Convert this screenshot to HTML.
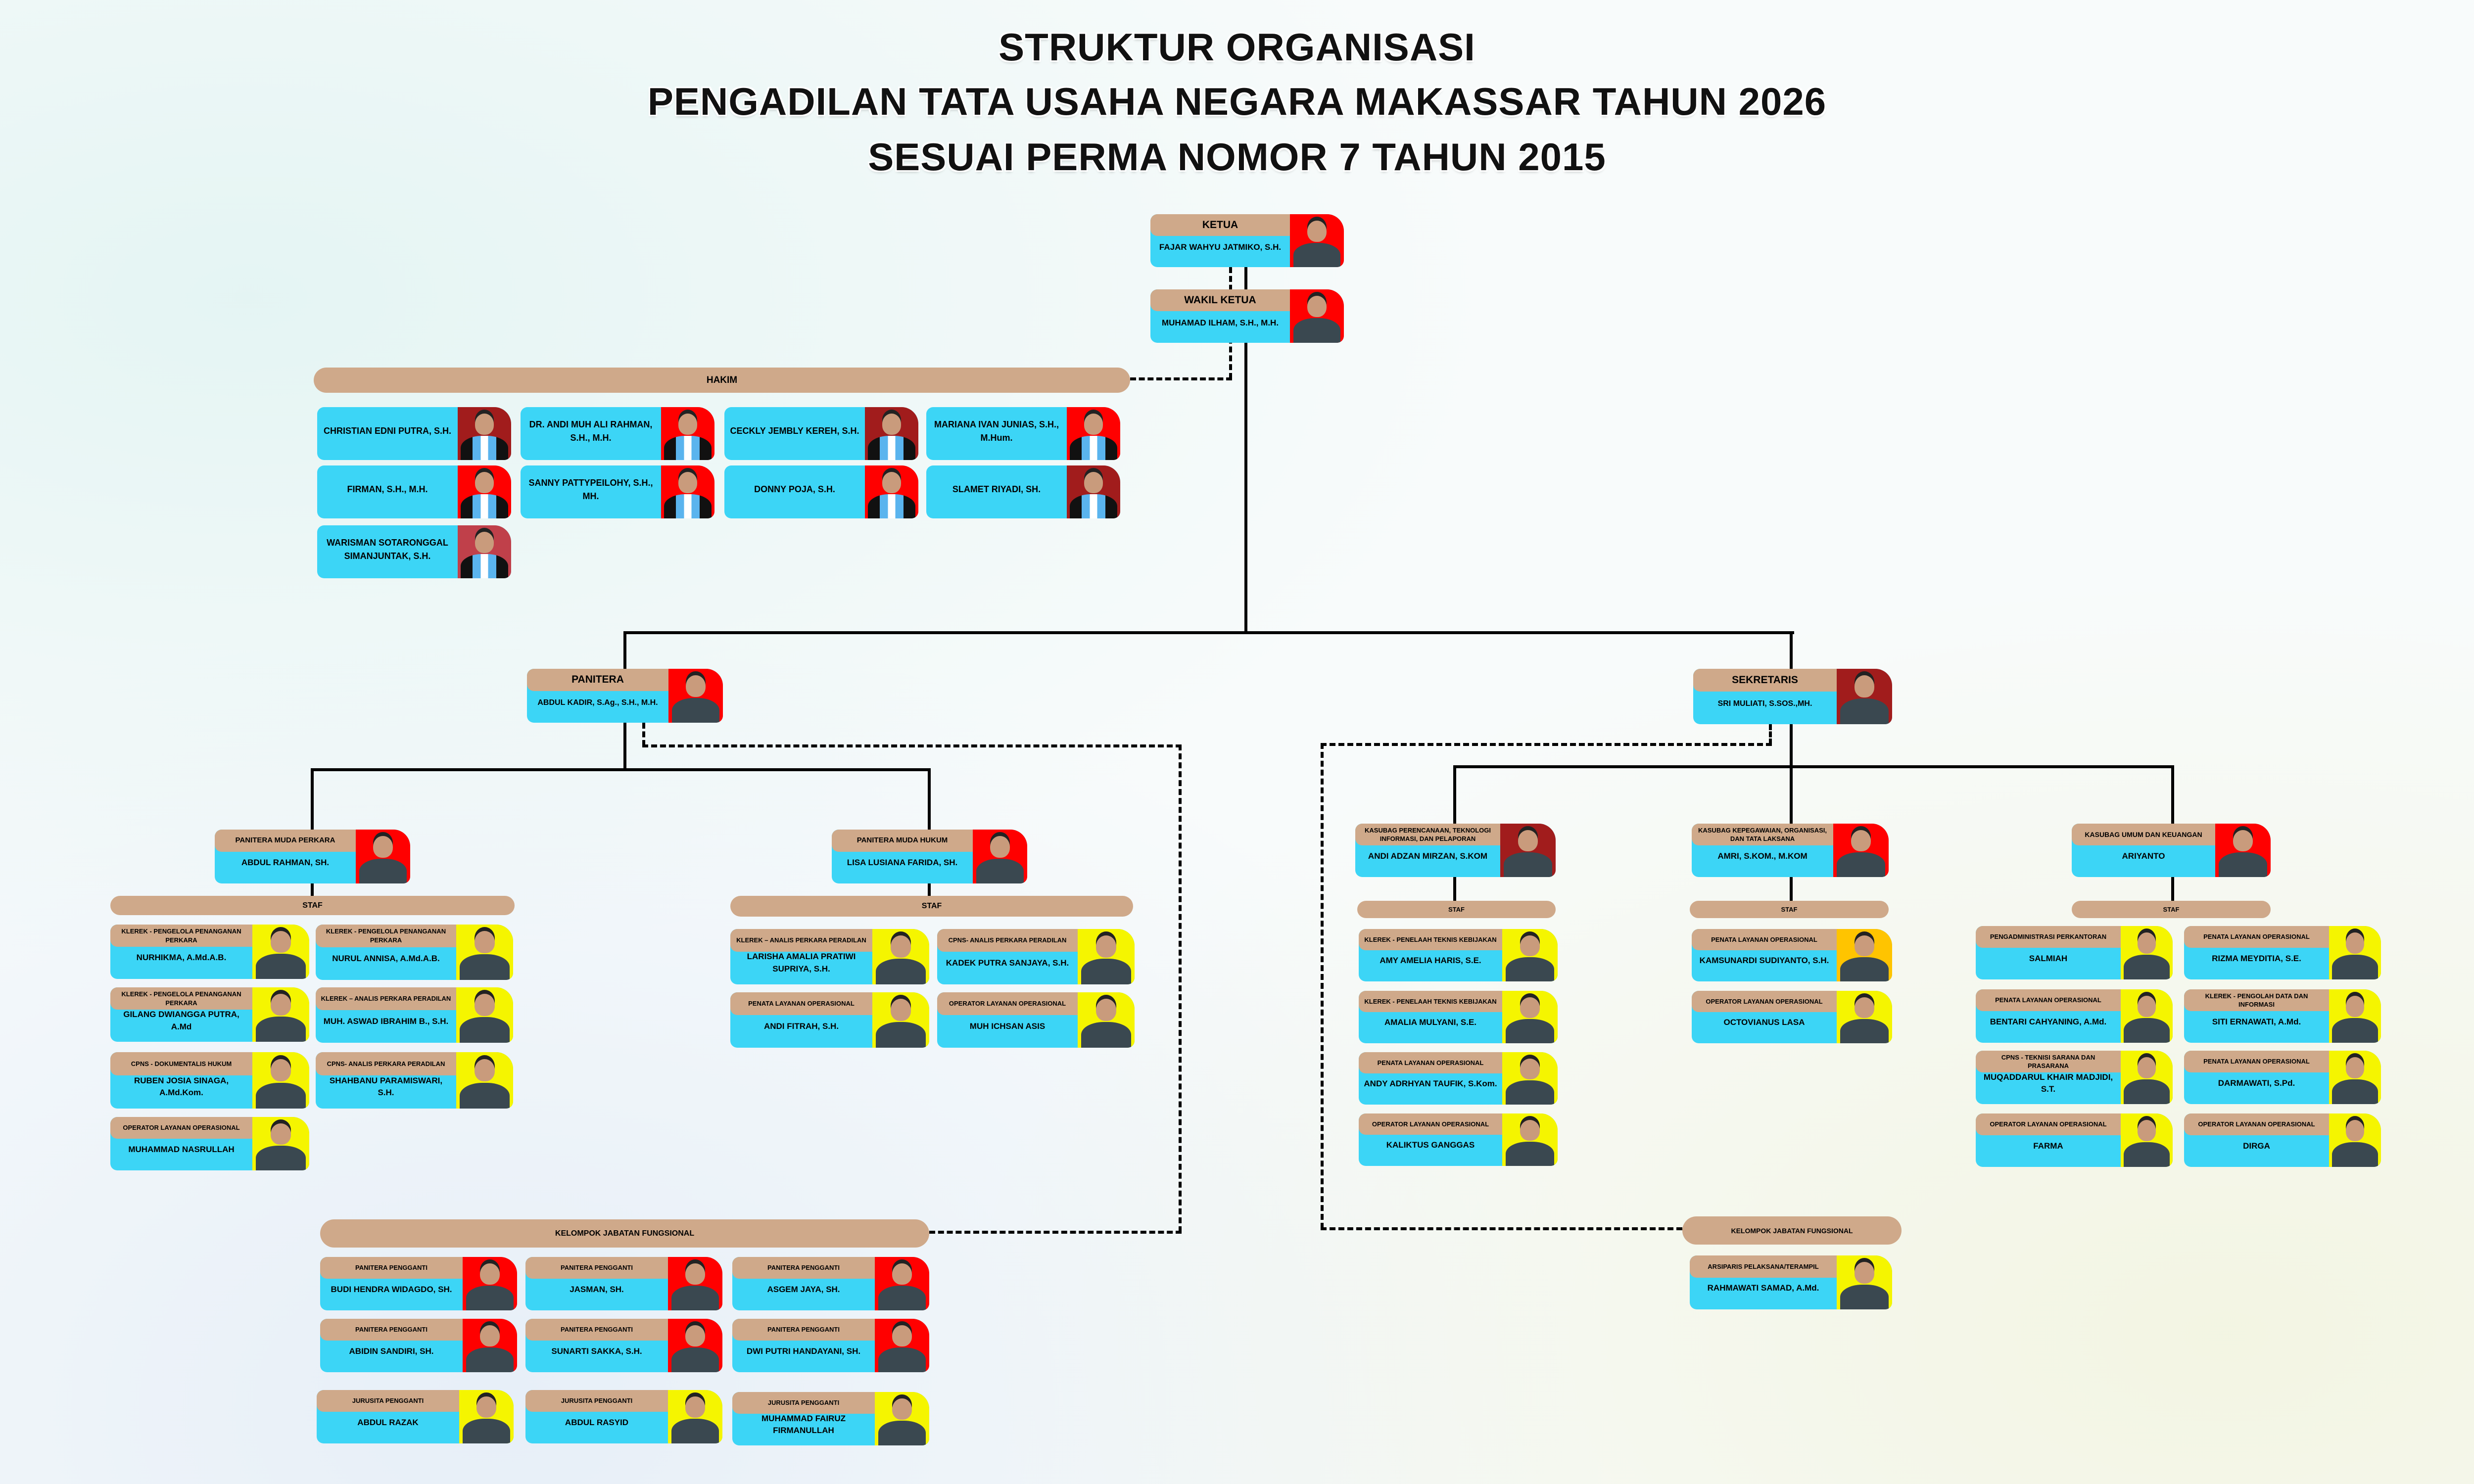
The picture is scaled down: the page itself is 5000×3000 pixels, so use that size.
<!DOCTYPE html>
<html><head><meta charset="utf-8">
<style>
*{margin:0;padding:0;box-sizing:border-box}
body{width:5000px;height:3000px;position:relative;overflow:hidden;background:#f8fbfb;font-family:"Liberation Sans",sans-serif;font-weight:bold;color:#000}
.bg1{position:absolute;left:0;top:0;width:5000px;height:3000px;background:radial-gradient(ellipse at 10% 20%,rgba(170,225,220,.25),transparent 40%),radial-gradient(ellipse at 90% 90%,rgba(230,230,170,.3),transparent 40%),radial-gradient(ellipse at 20% 95%,rgba(190,210,240,.3),transparent 40%)}
.title{position:absolute;left:0;width:5000px;text-align:center;font-size:78px;color:#111;letter-spacing:1px;text-shadow:3px 3px 0 #fff,-3px -3px 0 #fff,3px -3px 0 #fff,-3px 3px 0 #fff,0 4px 6px rgba(0,0,0,.2)}
.c{position:absolute;background:#3cd5f6;border-radius:14px 34px 14px 14px;overflow:hidden;--pw:112px}
.t{position:absolute;left:0;top:0;height:41%;right:var(--pw);background:#cfa98a;display:flex;align-items:center;justify-content:center;text-align:center;font-size:13px;line-height:1.35;padding:0 10px;border-radius:14px 0 0 14px}
.n{position:absolute;left:0;top:41%;bottom:0;right:var(--pw);display:flex;align-items:center;justify-content:center;text-align:center;font-size:17px;line-height:1.45;padding:0 10px 5% 10px}
.p{position:absolute;right:0;top:0;bottom:0;width:var(--pw);background:#f5f500;overflow:hidden}
.p::before{content:"";position:absolute;left:32%;top:12%;width:36%;height:40%;border-radius:50% 50% 45% 45%;background:#c99b7c;box-shadow:0 -8px 0 #222;z-index:2}
.p::after{content:"";position:absolute;left:6%;right:6%;top:54%;bottom:-5%;border-radius:45% 45% 0 0;background:#3a4850}
.r{background:#ff0000}.dr{background:#a11c1c}.y{background:#f5f500}.o{background:#ffc400}
.h .n{top:0;padding:0 10px 10px 10px;font-size:18px}
.h .p::after{background:linear-gradient(90deg,#111 0 25%,#5ab4ee 25% 42%,#fff 42% 58%,#5ab4ee 58% 75%,#111 75%)}
.big .t{font-size:21px}.big .n{font-size:17px;white-space:nowrap;padding:0 4px 4% 4px}
.bar{position:absolute;background:#cfa98a;border-radius:40px;display:flex;align-items:center;justify-content:center;font-size:19px}
.L{position:absolute;background:#000}
.DV{position:absolute;width:0;border-left:6px dashed #000}
.DH{position:absolute;height:0;border-top:6px dashed #000}
</style></head><body>
<div class="bg1"></div>
<div class="title" style="top:50px">STRUKTUR ORGANISASI</div>
<div class="title" style="top:160px">PENGADILAN TATA USAHA NEGARA MAKASSAR TAHUN 2026</div>
<div class="title" style="top:272px">SESUAI PERMA NOMOR 7 TAHUN 2015</div>

<div class="L" style="left:2515px;top:540px;width:6px;height:742px"></div>
<div class="L" style="left:1260px;top:1276px;width:2366px;height:6px"></div>
<div class="L" style="left:1260px;top:1276px;width:6px;height:80px"></div>
<div class="L" style="left:3617px;top:1276px;width:6px;height:80px"></div>
<div class="L" style="left:1260px;top:1460px;width:6px;height:98px"></div>
<div class="L" style="left:628px;top:1553px;width:1253px;height:6px"></div>
<div class="L" style="left:628px;top:1553px;width:6px;height:126px"></div>
<div class="L" style="left:1875px;top:1553px;width:6px;height:126px"></div>
<div class="L" style="left:628px;top:1785px;width:6px;height:28px"></div>
<div class="L" style="left:1875px;top:1785px;width:6px;height:28px"></div>
<div class="L" style="left:3617px;top:1463px;width:6px;height:88px"></div>
<div class="L" style="left:2937px;top:1547px;width:1457px;height:6px"></div>
<div class="L" style="left:2937px;top:1547px;width:6px;height:120px"></div>
<div class="L" style="left:3617px;top:1547px;width:6px;height:120px"></div>
<div class="L" style="left:4388px;top:1547px;width:6px;height:120px"></div>
<div class="L" style="left:2937px;top:1772px;width:6px;height:51px"></div>
<div class="L" style="left:3617px;top:1772px;width:6px;height:51px"></div>
<div class="L" style="left:4388px;top:1772px;width:6px;height:51px"></div>

<div class="DV" style="left:2484px;top:540px;height:226px"></div>
<div class="DH" style="left:2284px;top:763px;width:206px"></div>
<div class="DV" style="left:1298px;top:1461px;height:47px"></div>
<div class="DH" style="left:1298px;top:1505px;width:1090px"></div>
<div class="DV" style="left:2382px;top:1505px;height:986px"></div>
<div class="DH" style="left:1878px;top:2488px;width:510px"></div>
<div class="DV" style="left:3575px;top:1464px;height:41px"></div>
<div class="DH" style="left:2669px;top:1502px;width:912px"></div>
<div class="DV" style="left:2669px;top:1502px;height:982px"></div>
<div class="DH" style="left:2669px;top:2481px;width:731px"></div>

<div class="c big" style="left:2325px;top:433px;width:391px;height:107px;--pw:109px"><div class="t">KETUA</div><div class="n">FAJAR WAHYU JATMIKO, S.H.</div><div class="p r"></div></div>
<div class="c big" style="left:2325px;top:585px;width:391px;height:108px;--pw:109px"><div class="t">WAKIL KETUA</div><div class="n">MUHAMAD ILHAM, S.H., M.H.</div><div class="p r"></div></div>

<div class="bar" style="left:634px;top:743px;width:1650px;height:51px">HAKIM</div>
<div class="c h" style="left:641px;top:823px;width:392px;height:107px;--pw:108px"><div class="n">CHRISTIAN EDNI PUTRA, S.H.</div><div class="p dr"></div></div>
<div class="c h" style="left:1052px;top:823px;width:392px;height:107px;--pw:108px"><div class="n">DR. ANDI MUH ALI RAHMAN, S.H., M.H.</div><div class="p r"></div></div>
<div class="c h" style="left:1464px;top:823px;width:392px;height:107px;--pw:108px"><div class="n">CECKLY JEMBLY KEREH, S.H.</div><div class="p dr"></div></div>
<div class="c h" style="left:1872px;top:823px;width:392px;height:107px;--pw:108px"><div class="n">MARIANA IVAN JUNIAS, S.H., M.Hum.</div><div class="p r"></div></div>
<div class="c h" style="left:641px;top:941px;width:392px;height:107px;--pw:108px"><div class="n">FIRMAN, S.H., M.H.</div><div class="p r"></div></div>
<div class="c h" style="left:1052px;top:941px;width:392px;height:107px;--pw:108px"><div class="n">SANNY PATTYPEILOHY, S.H., MH.</div><div class="p r"></div></div>
<div class="c h" style="left:1464px;top:941px;width:392px;height:107px;--pw:108px"><div class="n">DONNY POJA, S.H.</div><div class="p r"></div></div>
<div class="c h" style="left:1872px;top:941px;width:392px;height:107px;--pw:108px"><div class="n">SLAMET RIYADI, SH.</div><div class="p dr"></div></div>
<div class="c h" style="left:641px;top:1062px;width:392px;height:107px;--pw:108px"><div class="n">WARISMAN SOTARONGGAL SIMANJUNTAK, S.H.</div><div class="p" style="background:#c0404a"></div></div>

<div class="c big" style="left:1065px;top:1352px;width:396px;height:109px;--pw:110px"><div class="t">PANITERA</div><div class="n" style="font-size:16px">ABDUL KADIR, S.Ag., S.H., M.H.</div><div class="p r"></div></div>
<div class="c big" style="left:3422px;top:1352px;width:402px;height:112px;--pw:112px"><div class="t">SEKRETARIS</div><div class="n" style="font-size:16px">SRI MULIATI, S.SOS.,MH.</div><div class="p dr"></div></div>

<div class="c" style="left:434px;top:1677px;width:395px;height:109px;--pw:110px"><div class="t" style="font-size:15px">PANITERA MUDA PERKARA</div><div class="n">ABDUL RAHMAN, SH.</div><div class="p r"></div></div>
<div class="c" style="left:1681px;top:1677px;width:395px;height:109px;--pw:110px"><div class="t" style="font-size:15px">PANITERA MUDA HUKUM</div><div class="n">LISA LUSIANA FARIDA, SH.</div><div class="p r"></div></div>
<div class="bar" style="left:223px;top:1811px;width:817px;height:39px;font-size:16px">STAF</div>
<div class="bar" style="left:1476px;top:1811px;width:814px;height:42px;font-size:16px">STAF</div>

<div class="c" style="left:223px;top:1869px;width:402px;height:110px;--pw:115px"><div class="t">KLEREK - PENGELOLA PENANGANAN PERKARA</div><div class="n">NURHIKMA, A.Md.A.B.</div><div class="p y"></div></div>
<div class="c" style="left:223px;top:1996px;width:402px;height:110px;--pw:115px"><div class="t">KLEREK - PENGELOLA PENANGANAN PERKARA</div><div class="n">GILANG DWIANGGA PUTRA, A.Md</div><div class="p y"></div></div>
<div class="c" style="left:223px;top:2127px;width:402px;height:114px;--pw:115px"><div class="t">CPNS - DOKUMENTALIS HUKUM</div><div class="n">RUBEN JOSIA SINAGA, A.Md.Kom.</div><div class="p y"></div></div>
<div class="c" style="left:223px;top:2258px;width:402px;height:108px;--pw:115px"><div class="t">OPERATOR LAYANAN OPERASIONAL</div><div class="n">MUHAMMAD NASRULLAH</div><div class="p y"></div></div>
<div class="c" style="left:638px;top:1869px;width:399px;height:112px;--pw:115px"><div class="t">KLEREK - PENGELOLA PENANGANAN PERKARA</div><div class="n">NURUL ANNISA, A.Md.A.B.</div><div class="p y"></div></div>
<div class="c" style="left:638px;top:1996px;width:399px;height:112px;--pw:115px"><div class="t">KLEREK – ANALIS PERKARA PERADILAN</div><div class="n">MUH. ASWAD IBRAHIM B., S.H.</div><div class="p y"></div></div>
<div class="c" style="left:638px;top:2127px;width:399px;height:114px;--pw:115px"><div class="t">CPNS- ANALIS PERKARA PERADILAN</div><div class="n">SHAHBANU PARAMISWARI, S.H.</div><div class="p y"></div></div>

<div class="c" style="left:1476px;top:1878px;width:402px;height:112px;--pw:115px"><div class="t">KLEREK – ANALIS PERKARA PERADILAN</div><div class="n">LARISHA AMALIA PRATIWI SUPRIYA, S.H.</div><div class="p y"></div></div>
<div class="c" style="left:1894px;top:1878px;width:399px;height:112px;--pw:115px"><div class="t">CPNS- ANALIS PERKARA PERADILAN</div><div class="n">KADEK PUTRA SANJAYA, S.H.</div><div class="p y"></div></div>
<div class="c" style="left:1476px;top:2006px;width:402px;height:112px;--pw:115px"><div class="t">PENATA LAYANAN OPERASIONAL</div><div class="n">ANDI FITRAH, S.H.</div><div class="p y"></div></div>
<div class="c" style="left:1894px;top:2006px;width:399px;height:112px;--pw:115px"><div class="t">OPERATOR LAYANAN OPERASIONAL</div><div class="n">MUH ICHSAN ASIS</div><div class="p y"></div></div>

<div class="bar" style="left:647px;top:2465px;width:1231px;height:57px;font-size:16px">KELOMPOK JABATAN FUNGSIONAL</div>
<div class="c" style="left:647px;top:2541px;width:398px;height:108px;--pw:110px"><div class="t">PANITERA PENGGANTI</div><div class="n">BUDI HENDRA WIDAGDO, SH.</div><div class="p r"></div></div>
<div class="c" style="left:1062px;top:2541px;width:398px;height:108px;--pw:110px"><div class="t">PANITERA PENGGANTI</div><div class="n">JASMAN, SH.</div><div class="p r"></div></div>
<div class="c" style="left:1480px;top:2541px;width:398px;height:108px;--pw:110px"><div class="t">PANITERA PENGGANTI</div><div class="n">ASGEM JAYA, SH.</div><div class="p r"></div></div>
<div class="c" style="left:647px;top:2666px;width:398px;height:108px;--pw:110px"><div class="t">PANITERA PENGGANTI</div><div class="n">ABIDIN SANDIRI, SH.</div><div class="p r"></div></div>
<div class="c" style="left:1062px;top:2666px;width:398px;height:108px;--pw:110px"><div class="t">PANITERA PENGGANTI</div><div class="n">SUNARTI SAKKA, S.H.</div><div class="p r"></div></div>
<div class="c" style="left:1480px;top:2666px;width:398px;height:108px;--pw:110px"><div class="t">PANITERA PENGGANTI</div><div class="n">DWI PUTRI HANDAYANI, SH.</div><div class="p r"></div></div>
<div class="c" style="left:640px;top:2810px;width:398px;height:108px;--pw:110px"><div class="t">JURUSITA PENGGANTI</div><div class="n">ABDUL RAZAK</div><div class="p y"></div></div>
<div class="c" style="left:1062px;top:2810px;width:398px;height:108px;--pw:110px"><div class="t">JURUSITA PENGGANTI</div><div class="n">ABDUL RASYID</div><div class="p y"></div></div>
<div class="c" style="left:1480px;top:2814px;width:398px;height:108px;--pw:110px"><div class="t">JURUSITA PENGGANTI</div><div class="n">MUHAMMAD FAIRUZ FIRMANULLAH</div><div class="p y"></div></div>

<div class="c" style="left:2739px;top:1665px;width:405px;height:108px;--pw:112px"><div class="t">KASUBAG PERENCANAAN, TEKNOLOGI INFORMASI, DAN PELAPORAN</div><div class="n">ANDI ADZAN MIRZAN, S.KOM</div><div class="p dr"></div></div>
<div class="c" style="left:3419px;top:1665px;width:398px;height:108px;--pw:112px"><div class="t">KASUBAG KEPEGAWAIAN, ORGANISASI, DAN TATA LAKSANA</div><div class="n">AMRI, S.KOM., M.KOM</div><div class="p r"></div></div>
<div class="c" style="left:4187px;top:1665px;width:402px;height:108px;--pw:112px"><div class="t" style="font-size:14px">KASUBAG UMUM DAN KEUANGAN</div><div class="n">ARIYANTO</div><div class="p r"></div></div>
<div class="bar" style="left:2743px;top:1821px;width:401px;height:35px;font-size:13px">STAF</div>
<div class="bar" style="left:3415px;top:1821px;width:402px;height:35px;font-size:13px">STAF</div>
<div class="bar" style="left:4187px;top:1821px;width:402px;height:35px;font-size:13px">STAF</div>

<div class="c" style="left:2746px;top:1878px;width:402px;height:106px;--pw:112px"><div class="t">KLEREK - PENELAAH TEKNIS KEBIJAKAN</div><div class="n">AMY AMELIA HARIS, S.E.</div><div class="p y"></div></div>
<div class="c" style="left:2746px;top:2003px;width:402px;height:106px;--pw:112px"><div class="t">KLEREK - PENELAAH TEKNIS KEBIJAKAN</div><div class="n">AMALIA MULYANI, S.E.</div><div class="p y"></div></div>
<div class="c" style="left:2746px;top:2127px;width:402px;height:106px;--pw:112px"><div class="t">PENATA LAYANAN OPERASIONAL</div><div class="n">ANDY ADRHYAN TAUFIK, S.Kom.</div><div class="p y"></div></div>
<div class="c" style="left:2746px;top:2251px;width:402px;height:106px;--pw:112px"><div class="t">OPERATOR LAYANAN OPERASIONAL</div><div class="n">KALIKTUS GANGGAS</div><div class="p y"></div></div>

<div class="c" style="left:3419px;top:1878px;width:405px;height:106px;--pw:112px"><div class="t">PENATA LAYANAN OPERASIONAL</div><div class="n">KAMSUNARDI SUDIYANTO, S.H.</div><div class="p o"></div></div>
<div class="c" style="left:3419px;top:2003px;width:405px;height:106px;--pw:112px"><div class="t">OPERATOR LAYANAN OPERASIONAL</div><div class="n">OCTOVIANUS LASA</div><div class="p y"></div></div>

<div class="c" style="left:3993px;top:1872px;width:398px;height:108px;--pw:105px"><div class="t">PENGADMINISTRASI PERKANTORAN</div><div class="n">SALMIAH</div><div class="p y"></div></div>
<div class="c" style="left:4414px;top:1872px;width:398px;height:108px;--pw:105px"><div class="t">PENATA LAYANAN OPERASIONAL</div><div class="n">RIZMA MEYDITIA, S.E.</div><div class="p y"></div></div>
<div class="c" style="left:3993px;top:2000px;width:398px;height:108px;--pw:105px"><div class="t">PENATA LAYANAN OPERASIONAL</div><div class="n">BENTARI CAHYANING, A.Md.</div><div class="p y"></div></div>
<div class="c" style="left:4414px;top:2000px;width:398px;height:108px;--pw:105px"><div class="t">KLEREK - PENGOLAH DATA DAN INFORMASI</div><div class="n">SITI ERNAWATI, A.Md.</div><div class="p y"></div></div>
<div class="c" style="left:3993px;top:2124px;width:398px;height:108px;--pw:105px"><div class="t">CPNS - TEKNISI SARANA DAN PRASARANA</div><div class="n">MUQADDARUL KHAIR MADJIDI, S.T.</div><div class="p y"></div></div>
<div class="c" style="left:4414px;top:2124px;width:398px;height:108px;--pw:105px"><div class="t">PENATA LAYANAN OPERASIONAL</div><div class="n">DARMAWATI, S.Pd.</div><div class="p y"></div></div>
<div class="c" style="left:3993px;top:2251px;width:398px;height:108px;--pw:105px"><div class="t">OPERATOR LAYANAN OPERASIONAL</div><div class="n">FARMA</div><div class="p y"></div></div>
<div class="c" style="left:4414px;top:2251px;width:398px;height:108px;--pw:105px"><div class="t">OPERATOR LAYANAN OPERASIONAL</div><div class="n">DIRGA</div><div class="p y"></div></div>

<div class="bar" style="left:3400px;top:2459px;width:443px;height:57px;font-size:14px">KELOMPOK JABATAN FUNGSIONAL</div>
<div class="c" style="left:3415px;top:2538px;width:409px;height:109px;--pw:112px"><div class="t">ARSIPARIS PELAKSANA/TERAMPIL</div><div class="n">RAHMAWATI SAMAD, A.Md.</div><div class="p y"></div></div>
</body></html>
